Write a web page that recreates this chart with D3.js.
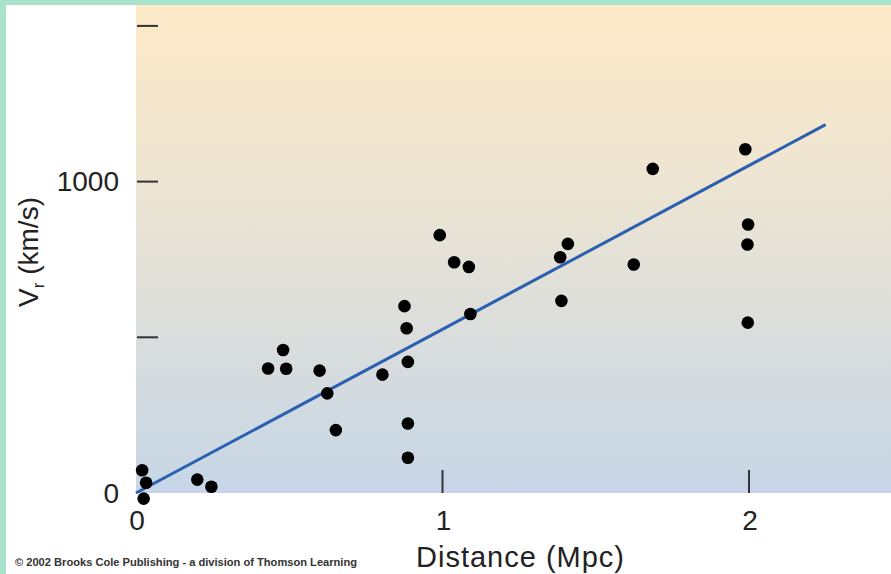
<!DOCTYPE html>
<html>
<head>
<meta charset="utf-8">
<script src="https://cdn.jsdelivr.net/npm/d3@7"></script>
<style>
  body { margin: 0; background: #fff; }
  text { font-family: "Liberation Sans", Arial, Helvetica, sans-serif; fill: #222; }
</style>
</head>
<body>
<div id="myChart"></div>
<script>
// galaxy distances (Mpc) and radial velocities (km/s)
const distance = [0.020, 0.033, 0.025, 0.20, 0.246, 0.431, 0.480, 0.490, 0.599, 0.624,
  0.652, 0.804, 0.876, 0.883, 0.887, 0.887, 0.887, 1.091, 0.991, 1.038,
  1.086, 1.409, 1.384, 1.388, 1.624, 1.686, 1.988, 1.997, 1.995, 1.996];
const velocity = [73, 33, -18, 43, 20, 400, 459, 399, 393, 320,
  202, 380, 600, 529, 421, 223, 113, 575, 828, 741,
  726, 800, 757, 617, 734, 1041, 1104, 862, 798, 547];

// fitted line end points
const fitX = [0, 2.25];
const fitY = [0, 1183];

const xTicks = [1, 2];
const xTickLabels = [0, 1, 2];
const yTicks = [500, 1000, 1500];
const yTickLabels = [0, 1000];

const W = 891, H = 574;
const margin = { top: 5, right: 0, bottom: 81, left: 136 },
  width = W - margin.left - margin.right,
  height = H - margin.top - margin.bottom;

const root = d3.select("#myChart").append("svg")
  .attr("width", W)
  .attr("height", H);

// green frame
root.append("rect").attr("x", 0).attr("y", 0).attr("width", W).attr("height", 5).attr("fill", "#a8e2cb");
root.append("rect").attr("x", 0).attr("y", 0).attr("width", 6).attr("height", H).attr("fill", "#a8e2cb");

// background gradient
const grad = root.append("defs").append("linearGradient")
  .attr("id", "bg").attr("x1", 0).attr("y1", 0).attr("x2", 0).attr("y2", 1);
grad.append("stop").attr("offset", "0%").attr("stop-color", "#fde9c7");
grad.append("stop").attr("offset", "35%").attr("stop-color", "#eee5d2");
grad.append("stop").attr("offset", "65%").attr("stop-color", "#dcdedb");
grad.append("stop").attr("offset", "97%").attr("stop-color", "#c8d7e5");
grad.append("stop").attr("offset", "100%").attr("stop-color", "#c9d4ec");

const svg = root.append("g")
  .attr("transform", "translate(" + margin.left + "," + margin.top + ")");

svg.append("rect")
  .attr("width", width)
  .attr("height", height)
  .attr("fill", "url(#bg)");

const x = d3.scaleLinear().domain([0, width / 306.5]).range([0, width]);
const y = d3.scaleLinear().domain([0, height / 0.3114]).range([height, 0]);

// ticks (inside the plot)
svg.selectAll(".ytick")
  .data(yTicks)
  .enter()
  .append("line")
  .attr("x1", 1).attr("x2", 22)
  .attr("y1", (d) => y(d)).attr("y2", (d) => y(d))
  .attr("stroke", "#333").attr("stroke-width", 2);

svg.selectAll(".xtick")
  .data(xTicks)
  .enter()
  .append("line")
  .attr("x1", (d) => x(d)).attr("x2", (d) => x(d))
  .attr("y1", height - 23).attr("y2", height)
  .attr("stroke", "#333").attr("stroke-width", 2);

// tick labels
svg.selectAll(".ylabel")
  .data(yTickLabels)
  .enter()
  .append("text")
  .attr("x", -17)
  .attr("y", (d) => y(d))
  .attr("dy", "0.35em")
  .style("text-anchor", "end")
  .style("font-size", "28px")
  .text((d) => d);

svg.selectAll(".xlabel")
  .data(xTickLabels)
  .enter()
  .append("text")
  .attr("x", (d) => x(d) + 1)
  .attr("y", height + 37)
  .style("text-anchor", "middle")
  .style("font-size", "28px")
  .text((d) => d);

// fit line
svg.append("line")
  .attr("x1", x(fitX[0])).attr("y1", y(fitY[0]))
  .attr("x2", x(fitX[1])).attr("y2", y(fitY[1]))
  .attr("stroke", "#2b5fb2")
  .attr("stroke-width", 3);

// points
svg.selectAll(".dot")
  .data(distance)
  .enter()
  .append("circle")
  .attr("cx", (d) => x(d))
  .attr("cy", (d, i) => y(velocity[i]))
  .attr("r", 6.3)
  .attr("fill", "#000");

// axis titles
root.append("text")
  .attr("x", 520)
  .attr("y", 567)
  .style("text-anchor", "middle")
  .style("font-size", "29px")
  .attr("textLength", 208)
  .attr("lengthAdjust", "spacing")
  .text("Distance (Mpc)");

const yt = root.append("text")
  .attr("transform", "translate(38,252) rotate(-90)")
  .style("text-anchor", "middle")
  .style("font-size", "28px");
yt.append("tspan").text("V");
yt.append("tspan").attr("dy", 6).style("font-size", "17px").text("r");
yt.append("tspan").attr("dy", -6).text(" (km/s)");

// credit line
root.append("text")
  .attr("x", 15)
  .attr("y", 566)
  .style("font-size", "10.5px")
  .style("font-weight", "bold")
  .style("fill", "#333")
  .attr("textLength", 342)
  .attr("lengthAdjust", "spacingAndGlyphs")
  .text("\u00a9 2002 Brooks Cole Publishing - a division of Thomson Learning");
</script>
</body>
</html>
